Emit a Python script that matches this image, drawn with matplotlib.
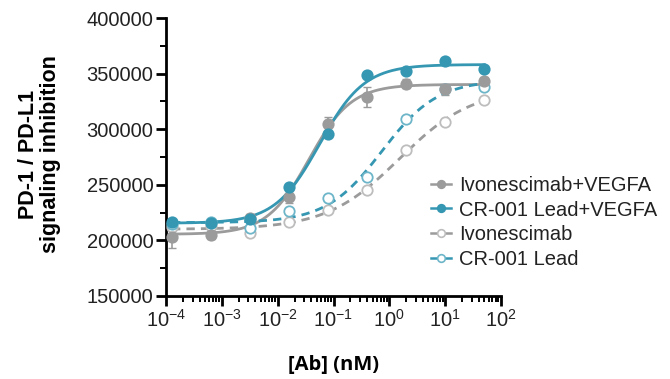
import numpy as np
import matplotlib
matplotlib.use("Agg")
import matplotlib.pyplot as plt
from matplotlib.ticker import LogLocator, MultipleLocator, NullFormatter

plt.rcParams['font.family'] = ['Liberation Sans', 'DejaVu Sans']
plt.rcParams['mathtext.fontset'] = 'custom'
plt.rcParams['mathtext.rm'] = 'Liberation Sans'
plt.rcParams['mathtext.it'] = 'Liberation Sans:italic'
plt.rcParams['mathtext.bf'] = 'Liberation Sans:bold'

# ---- data ----
conc_nM = [0.000128, 0.00064, 0.0032, 0.016, 0.08, 0.4, 2, 10, 50]

ivo_vegfa = [203000, 205000, 220500, 239000, 304700, 329000, 341000, 336000, 343600]
ivo_vegfa_err = [10000, 4000, 3000, 5000, 6500, 8700, 4000, 5000, 3000]
cr_vegfa = [216500, 215600, 219500, 248300, 295700, 348700, 352000, 361600, 353900]
ivo = [212000, 213000, 206500, 216500, 227300, 245300, 281300, 306800, 326300]
cr = [214500, 216500, 211000, 226000, 237900, 257300, 308900, 336000, 337700]

labels = ["Ivonescimab+VEGFA", "CR-001 Lead+VEGFA", "Ivonescimab", "CR-001 Lead"]

teal = "#3597B2"
gray = "#9B9B9B"
teal_open = "#6DB5C8"
gray_open = "#BDBDBD"


def four_pl(p, lx):
    b, t, lec, h = p
    return b + (t - b) / (1.0 + 10.0 ** ((lec - lx) * h))


def fit_4pl(x, y):
    lx = np.log10(np.asarray(x, float))
    y = np.asarray(y, float)
    p = np.array([y.min(), y.max(), np.median(lx), 1.0])
    lam = 1e-2
    for _ in range(400):
        r = y - four_pl(p, lx)
        J = np.zeros((lx.size, 4))
        for k in range(4):
            dp = np.zeros(4)
            dp[k] = 1e-6 * max(1.0, abs(p[k]))
            J[:, k] = (four_pl(p + dp, lx) - four_pl(p - dp, lx)) / (2 * dp[k])
        A = J.T @ J
        g = J.T @ r
        step = np.linalg.solve(A + lam * np.diag(np.diag(A)), g)
        pn = p + step
        if np.sum((y - four_pl(pn, lx)) ** 2) < np.sum(r ** 2):
            p = pn
            lam *= 0.5
        else:
            lam *= 4
    return p


fig = plt.figure(figsize=(6.7, 3.79), dpi=100)
ax = fig.add_axes([0.2478, 0.219, 0.5, 0.7335])

xs = np.logspace(np.log10(conc_nM[0]), np.log10(conc_nM[-1]), 300)
lxs = np.log10(xs)

series = [
    (ivo_vegfa, gray, gray, gray, '-'),
    (cr_vegfa, teal, teal, teal, '-'),
    (ivo, gray, gray_open, 'white', '--'),
    (cr, teal, teal_open, 'white', '--'),
]

handles = []
for i, (vals, lc, ec, fc, ls) in enumerate(series):
    p = fit_4pl(conc_nM, vals)
    ax.plot(xs, four_pl(p, lxs), color=lc, ls=ls, lw=2.0,
            dashes=(3, 2.2) if ls == '--' else (None, None), zorder=2)
    if i == 0:
        ax.errorbar(conc_nM, vals, yerr=ivo_vegfa_err, fmt='none', ecolor=gray,
                    elinewidth=1.2, capsize=3, zorder=3)
    ax.plot(conc_nM, vals, 'o', ms=7.5, mfc=fc, mec=ec, mew=1.3, ls='none',
            zorder=4 if i < 2 else 3)
    h, = ax.plot([], [], marker='o', ms=5.5, mfc=fc, mec=ec, mew=1.2,
                 color=lc, lw=1.8, label=labels[i])
    handles.append(h)

ax.set_xscale('log')
ax.set_xlim(1e-4, 1e2)
ax.set_ylim(150000, 400000)
ax.xaxis.set_minor_locator(LogLocator(base=10, subs=np.arange(2, 10), numticks=20))
ax.xaxis.set_minor_formatter(NullFormatter())
ax.set_xticks([1e-4, 1e-3, 1e-2, 1e-1, 1e0, 1e1, 1e2])
ax.set_xticklabels([r'$10^{-4}$', r'$10^{-3}$', r'$10^{-2}$', r'$10^{-1}$',
                    r'$10^{0}$', r'$10^{1}$', r'$10^{2}$'])
ax.yaxis.set_minor_locator(MultipleLocator(25000))
ax.set_yticks([150000, 200000, 250000, 300000, 350000, 400000])
ax.set_yticklabels([str(v) for v in [150000, 200000, 250000, 300000, 350000, 400000]])

for s in ['top', 'right']:
    ax.spines[s].set_visible(False)
for s in ['left', 'bottom']:
    ax.spines[s].set_linewidth(2.0)
    ax.spines[s].set_color('black')

ax.tick_params(axis='both', which='major', length=7, width=2, labelsize=14.5,
               color='black', labelcolor='#222222', pad=2)
ax.tick_params(axis='both', which='minor', length=4, width=1.4, color='black')

ax.set_ylabel("PD-1 / PD-L1\nsignaling inhibition", fontsize=15.5, fontweight='bold',
              linespacing=1.05)
ax.set_xlabel("[Ab] (nM)", fontsize=14.5, fontweight='bold', labelpad=18,
              family=['Open Sans', 'DejaVu Sans'])
ax.yaxis.set_label_coords(-0.313, 0.51)

leg = ax.legend(handles=handles, loc='upper left', bbox_to_anchor=(0.79, 0.432),
                frameon=False, fontsize=14.5, handlelength=1.0, handletextpad=0.4,
                labelspacing=0.28, borderaxespad=0, borderpad=0)
for t in leg.get_texts():
    t.set_color('#222222')

fig.savefig("out.png", dpi=100)
